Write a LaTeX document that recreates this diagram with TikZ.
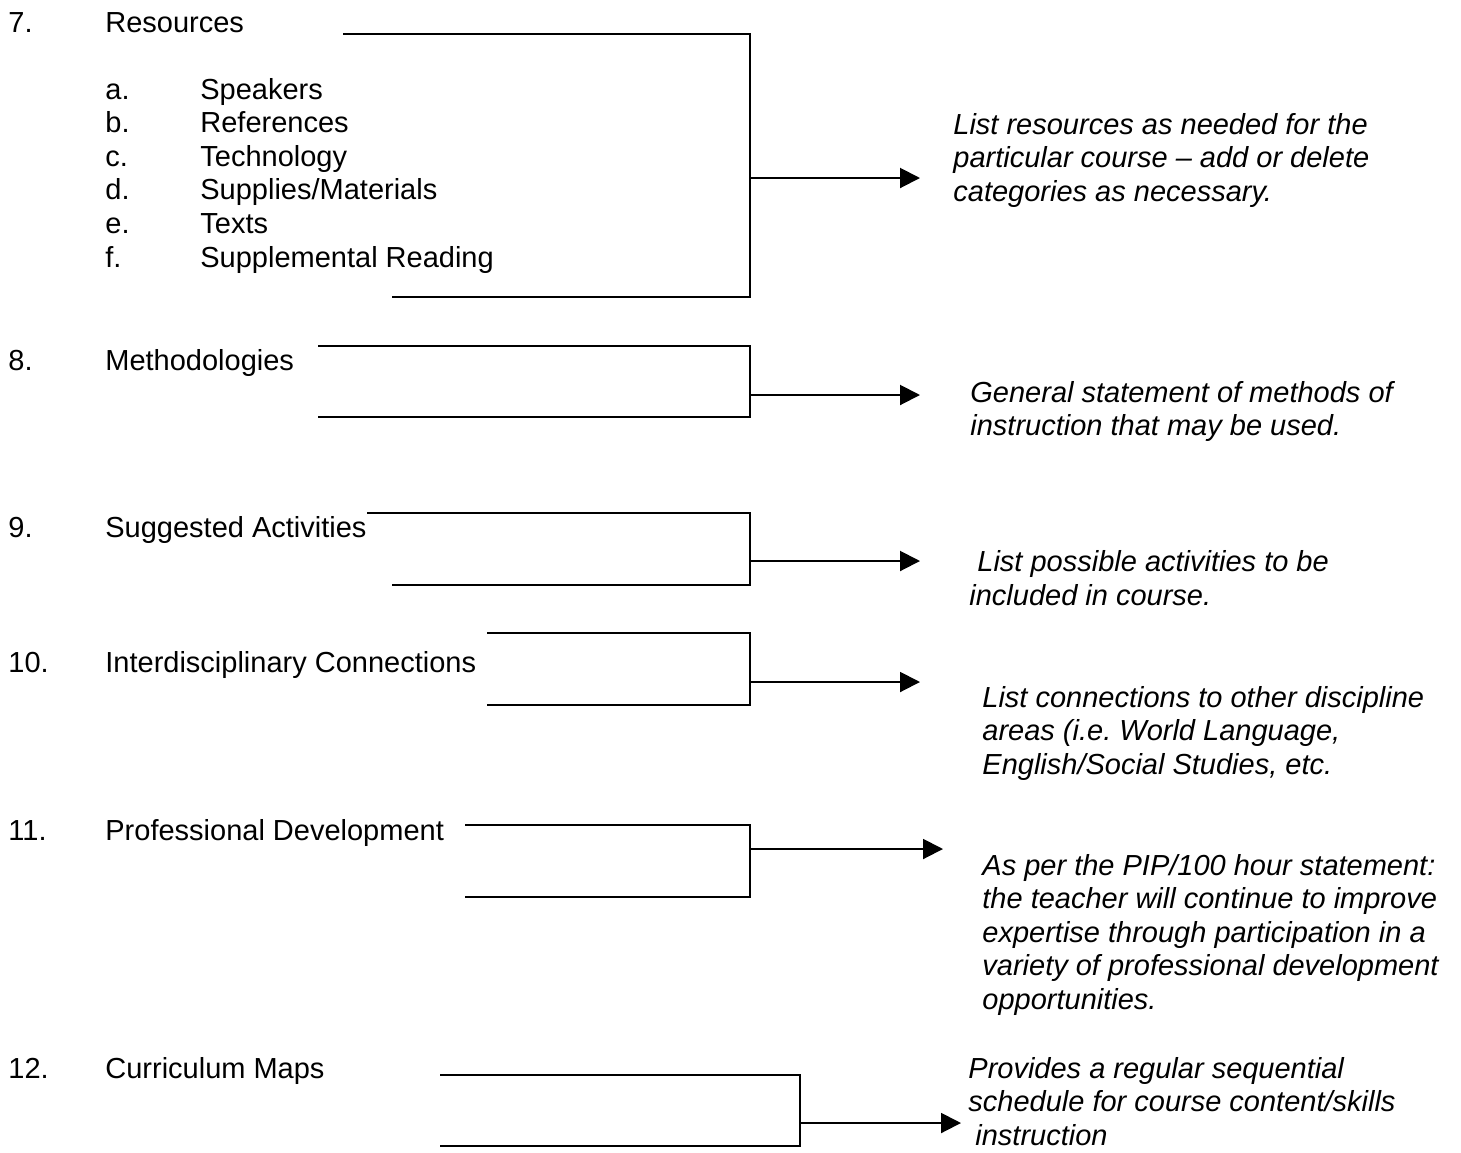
\documentclass[tikz,border=0pt]{standalone}
\usepackage{fontspec}
\setmainfont{Liberation Sans}
\usetikzlibrary{arrows.meta}
\frenchspacing

\begin{document}
\begin{tikzpicture}[x=0.5pt,y=-0.5pt,
    entry/.style={anchor=base west,inner sep=0pt,font=\fontsize{14.5}{16.8}\selectfont},
    note/.style={entry,font=\fontsize{14.5}{16.8}\selectfont\itshape},
    bracket/.style={line width=1pt},
    pointer/.style={line width=1pt,-{Triangle[length=10pt,width=10pt]}}]
    \useasboundingbox (0,0) rectangle (1461,1152);

    % left column
    \node[entry] (num7) at (8,32) {7.};
    \node[entry] (sec7) at (105,32) {Resources};
    \foreach \l/\t [count=\i] in {a/Speakers,b/References,c/Technology,d/{Supplies/Materials},e/Texts,f/Supplemental Reading} {
      \node[entry] (let\i) at (105,{99+33.6*(\i-1)}) {\l.};
      \node[entry] (item\i) at (200,{99+33.6*(\i-1)}) {\t};
    }
    \foreach \k/\y/\t in {8/370/Methodologies,9/537/Suggested Activities,10/672/Interdisciplinary Connections,11/840/Professional Development,12/1078/Curriculum Maps} {
      \node[entry] (num\k) at (8,\y) {\k.};
      \node[entry] (sec\k) at (105,\y) {\t};
    }

    % brackets and arrows
    \foreach \k/\xt/\xb/\xr/\yt/\yb/\ym/\xe in {7/343/392/750/34/297/178/920,8/318/318/750/346/417/395/920,9/367/392/750/513/585/561/920,10/487/487/750/633/705/682/920,11/465/465/750/825/897/849/943,12/440/440/800/1075/1146/1123/961} {
      \coordinate (t\k) at (\xt,\yt);
      \coordinate (tr\k) at (\xr,\yt);
      \coordinate (br\k) at (\xr,\yb);
      \coordinate (b\k) at (\xb,\yb);
      \coordinate (m\k) at (\xr,\ym);
      \coordinate (e\k) at (\xe,\ym);
      \draw[bracket] (t\k) -- (tr\k) -- (br\k) -- (b\k);
      \draw[pointer] (m\k) -- (e\k);
    }

    % notes
    \foreach \t [count=\i] in {List resources as needed for the,particular course – add or delete,categories as necessary.}
      \node[note] (n7-\i) at (953,{134+33.5*(\i-1)}) {\t};
    \foreach \t [count=\i] in {General statement of methods of,instruction that may be used.}
      \node[note] (n8-\i) at (970,{402+33.5*(\i-1)}) {\t};
    \node[note] (n9-1) at (977,571) {List possible activities to be};
    \node[note] (n9-2) at (969,605) {included in course.};
    \foreach \t [count=\i] in {List connections to other discipline,{areas (i.e. World Language,},{English/Social Studies, etc.}}
      \node[note] (n10-\i) at (982,{707+33.5*(\i-1)}) {\t};
    \foreach \t [count=\i] in {As per the PIP/100 hour statement:,the teacher will continue to improve,expertise through participation in a,variety of professional development,opportunities.}
      \node[note] (n11-\i) at (982,{875+33.5*(\i-1)}) {\t};
    \node[note] (n12-1) at (968,1078) {Provides a regular sequential};
    \node[note] (n12-2) at (968,1111) {schedule for course content/skills};
    \node[note] (n12-3) at (975,1145) {instruction};
  \end{tikzpicture}
\end{document}
